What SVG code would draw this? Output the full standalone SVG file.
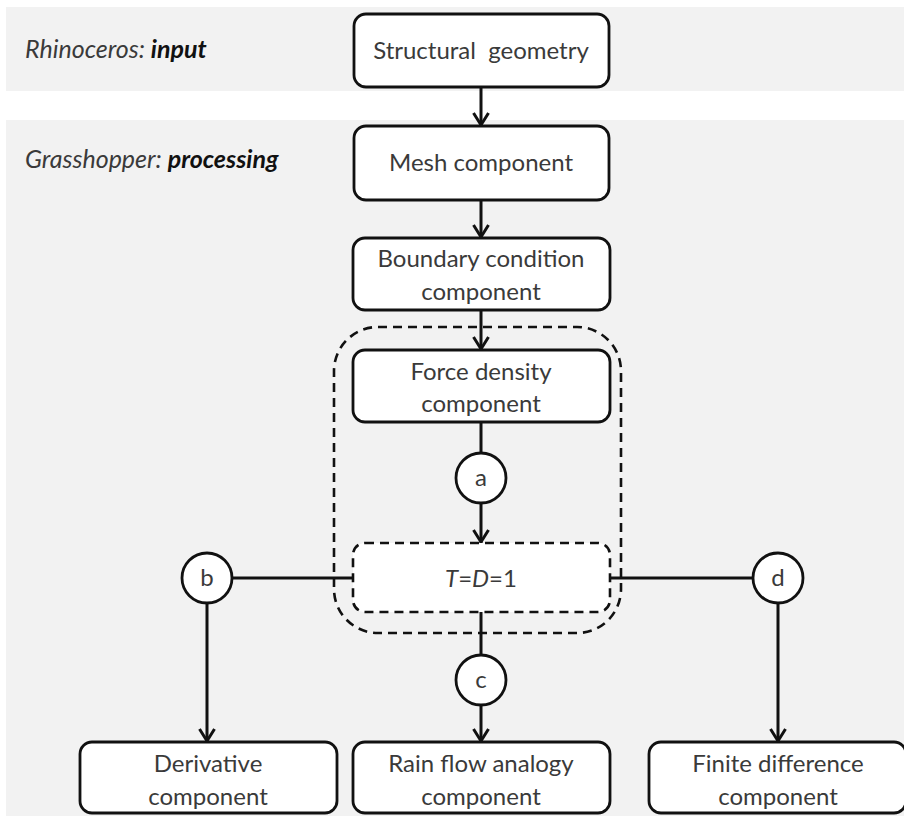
<svg xmlns="http://www.w3.org/2000/svg" width="904" height="816" viewBox="0 0 904 816">
  <defs>
    <style>
      .band { fill: #f2f2f2; }
      .box { fill: #ffffff; stroke: #111111; stroke-width: 2.8; }
      .circ { fill: #ffffff; stroke: #111111; stroke-width: 2.8; }
      .dash { fill: none; stroke: #111111; stroke-width: 2.6; stroke-dasharray: 9 6; }
      .dashbox { fill: #ffffff; stroke: #111111; stroke-width: 2.6; stroke-dasharray: 9 6; }
      .line { fill: none; stroke: #111111; stroke-width: 3; }
      .arrow { fill: none; stroke: #111111; stroke-width: 3; marker-end: url(#head); }
      .t { font-family: Lato, "Liberation Sans", sans-serif; font-size: 24px; fill: #3a3a3a; text-anchor: middle; }
      .lab { font-family: Lato, "Liberation Sans", sans-serif; font-size: 25px; fill: #3a3a3a; font-style: italic; }
      .b { font-weight: bold; fill: #111111; }
    </style>
    <marker id="head" markerUnits="userSpaceOnUse" viewBox="-15 -10 18 20" markerWidth="18" markerHeight="20" refX="1" refY="0" orient="auto">
      <path d="M-12,-7.5 L0,0 L-12,7.5" fill="none" stroke="#111111" stroke-width="3"/>
    </marker>
  </defs>

  <!-- background bands -->
  <rect class="band" x="6" y="7" width="898" height="84"/>
  <rect class="band" x="6" y="120" width="898" height="696"/>

  <text class="lab" x="25" y="58">Rhinoceros: <tspan class="b">input</tspan></text>
  <text class="lab" x="25" y="168">Grasshopper: <tspan class="b">processing</tspan></text>

  <!-- solver region -->
  <rect id="solver-region" class="dash" x="334" y="327" width="287" height="306" rx="44"/>

  <!-- connectors -->
  <g id="connectors">
    <line class="arrow" x1="481" y1="87" x2="481" y2="126"/>
    <line class="arrow" x1="481" y1="200" x2="481" y2="238"/>
    <line class="arrow" x1="481" y1="310" x2="481" y2="350"/>
    <line class="line" x1="481" y1="422" x2="481" y2="454"/>
    <line class="arrow" x1="481" y1="503" x2="481" y2="543"/>
    <line class="line" x1="232" y1="578" x2="353" y2="578"/>
    <line class="line" x1="610" y1="578" x2="753" y2="578"/>
    <line class="arrow" x1="207" y1="603" x2="207" y2="742"/>
    <line class="arrow" x1="778" y1="603" x2="778" y2="742"/>
    <line class="line" x1="481" y1="612" x2="481" y2="655"/>
    <line class="arrow" x1="481" y1="705" x2="481" y2="742"/>
  </g>

  <g id="structural-geometry">
    <rect class="box" x="354" y="14" width="255" height="73" rx="12"/>
    <text class="t" x="481" y="59" xml:space="preserve">Structural  geometry</text>
  </g>

  <g id="mesh-component">
    <rect class="box" x="354" y="126" width="255" height="74" rx="12"/>
    <text class="t" x="481" y="171">Mesh component</text>
  </g>

  <g id="boundary-condition">
    <rect class="box" x="353" y="238" width="257" height="72" rx="12"/>
    <text class="t" x="481" y="267">Boundary condition</text>
    <text class="t" x="481" y="300">component</text>
  </g>

  <g id="force-density">
    <rect class="box" x="353" y="350" width="257" height="72" rx="12"/>
    <text class="t" x="481" y="380">Force density</text>
    <text class="t" x="481" y="412">component</text>
  </g>

  <g id="node-a">
    <circle class="circ" cx="481" cy="478" r="25"/>
    <text class="t" x="481" y="486">a</text>
  </g>

  <g id="unit-condition">
    <rect class="dashbox" x="353" y="543" width="257" height="69" rx="12"/>
    <text class="t" x="481" y="587"><tspan font-style="italic">T</tspan>=<tspan font-style="italic">D</tspan>=1</text>
  </g>

  <g id="node-b">
    <circle class="circ" cx="207" cy="578" r="25"/>
    <text class="t" x="207" y="586">b</text>
  </g>

  <g id="node-c">
    <circle class="circ" cx="481" cy="680" r="25"/>
    <text class="t" x="481" y="688">c</text>
  </g>

  <g id="node-d">
    <circle class="circ" cx="778" cy="578" r="25"/>
    <text class="t" x="778" y="586">d</text>
  </g>

  <g id="derivative">
    <rect class="box" x="80" y="742" width="257" height="71" rx="12"/>
    <text class="t" x="208" y="772">Derivative</text>
    <text class="t" x="208" y="805">component</text>
  </g>

  <g id="rain-flow">
    <rect class="box" x="353" y="742" width="257" height="71" rx="12"/>
    <text class="t" x="481" y="772">Rain flow analogy</text>
    <text class="t" x="481" y="805">component</text>
  </g>

  <g id="finite-difference">
    <rect class="box" x="649" y="742" width="257" height="71" rx="12"/>
    <text class="t" x="778" y="772">Finite difference</text>
    <text class="t" x="778" y="805">component</text>
  </g>
</svg>
